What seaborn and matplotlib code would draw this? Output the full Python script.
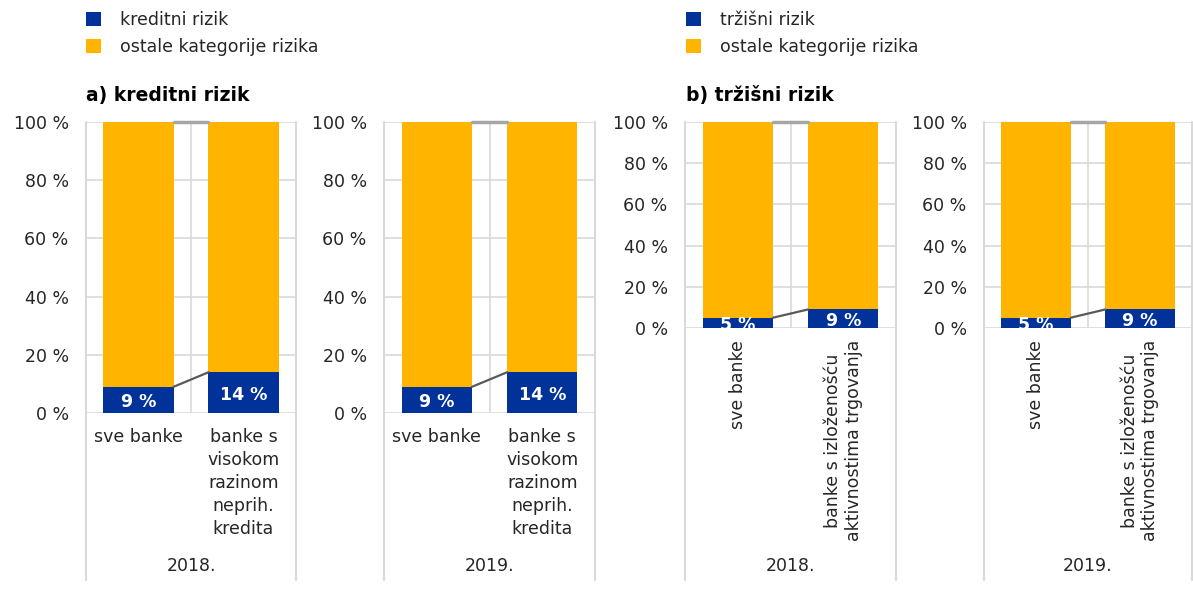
import matplotlib
matplotlib.use("Agg")
import matplotlib.pyplot as plt
import seaborn as sns
from matplotlib.patches import Patch

BLUE = "#003299"
YELLOW = "#FFB400"
GRID = "#d9d9d9"
TEXT = "#262626"

years = ["2018.", "2019."]
total = [100, 100]
yticks = [0, 20, 40, 60, 80, 100]

credit_groups = ["sve banke", "banke s\nvisokom\nrazinom\nneprih.\nkredita"]
credit_2018 = [9, 14]
credit_2019 = [9, 14]

market_groups = ["sve banke", "banke s izloženošću\naktivnostima trgovanja"]
market_2018 = [5, 9]
market_2019 = [5, 9]

W, H = 1193, 598
BAR_W = 0.667
SEP_BOTTOM = 580
FS = 12.5

sns.set_style("white")
plt.rcParams["font.family"] = ["DejaVu Sans"]
plt.rcParams["text.color"] = TEXT

fig = plt.figure(figsize=(W / 100, H / 100), dpi=100)


def add_panel(box, groups, shares, year, rotated):
    left, top, right, bottom = box
    ax = fig.add_axes([left / W, 1 - bottom / H, (right - left) / W, (bottom - top) / H])
    sns.barplot(x=groups, y=total, color=YELLOW, saturation=1, width=BAR_W, ax=ax,
                zorder=2, linewidth=0, edgecolor="none")
    sns.barplot(x=groups, y=shares, color=BLUE, saturation=1, width=BAR_W, ax=ax,
                zorder=2, linewidth=0, edgecolor="none")
    ax.set_xlim(-0.5, 1.5)
    ax.set_ylim(0, 100)
    ax.set_xlabel("")
    ax.set_ylabel("")
    for s in ax.spines.values():
        s.set_visible(False)

    ax.set_yticks(yticks)
    ax.set_yticklabels([f"{v} %" for v in yticks], fontsize=FS, color=TEXT)
    ax.yaxis.grid(True, color=GRID, lw=1.2, zorder=0)
    ax.set_axisbelow(True)
    ax.axvline(0.5, color=GRID, lw=1.2, zorder=0)

    # category separators run down through the label area
    ext = -(SEP_BOTTOM - bottom) / (bottom - top)
    tr = ax.get_xaxis_transform()
    for xv in (-0.5, 1.5):
        ax.plot([xv, xv], [ext, 1], transform=tr, color=GRID, lw=1.5, clip_on=False, zorder=0)

    ax.set_xticks([0, 1])
    if rotated:
        ax.set_xticklabels(groups, rotation=90, va="top", ha="center",
                           multialignment="center", fontsize=FS, color=TEXT)
        ax.tick_params(axis="x", length=0, pad=8.5)
    else:
        ax.set_xticklabels(groups, fontsize=FS, color=TEXT, linespacing=1.36)
        ax.tick_params(axis="x", length=0, pad=10.5)
    ax.tick_params(axis="y", length=0, pad=12.5)

    # series lines between the bars
    x0, x1 = BAR_W / 2, 1 - BAR_W / 2
    ax.plot([x0, x1], [shares[0], shares[1]], color="#595959", lw=1.6, zorder=3)
    ax.plot([x0, x1], [100, 100], color="#a6a6a6", lw=2.5, zorder=3, clip_on=False)

    for bar, val in zip(ax.containers[1], shares):
        cx = bar.get_x() + bar.get_width() / 2
        t = ax.text(cx, val / 2, f"{val} %", ha="center", va="center_baseline",
                    color="white", fontsize=FS, fontweight="bold", zorder=4)
        t.set_clip_path(bar)

    yr = 1 - (566 - top) / (bottom - top)
    ax.text(0.5, yr, year, transform=ax.transAxes, ha="center", va="center",
            fontsize=FS, color=TEXT)
    return ax


add_panel((86, 122, 296, 413), credit_groups, credit_2018, years[0], False)
add_panel((384, 122, 595, 413), credit_groups, credit_2019, years[1], False)
add_panel((685, 122, 896, 328), market_groups, market_2018, years[0], True)
add_panel((984, 122, 1192, 328), market_groups, market_2019, years[1], True)

fig.text(86 / W, 1 - 101 / H, "a) kreditni rizik", fontsize=13.5, fontweight="bold",
         va="baseline", ha="left", color="black")
fig.text(686 / W, 1 - 101 / H, "b) tržišni rizik", fontsize=13.5, fontweight="bold",
         va="baseline", ha="left", color="black")

for x, first in ((86, "kreditni rizik"), (686, "tržišni rizik")):
    handles = [Patch(facecolor=BLUE, edgecolor="none"), Patch(facecolor=YELLOW, edgecolor="none")]
    fig.legend(handles, [first, "ostale kategorije rizika"], loc="upper left",
               bbox_to_anchor=(x / W, 1 - 11 / H), frameon=False, fontsize=FS,
               handlelength=0.85, handleheight=0.85, handletextpad=1.1,
               labelspacing=0.5, borderpad=0, borderaxespad=0)

fig.savefig("out.png", dpi=100)
